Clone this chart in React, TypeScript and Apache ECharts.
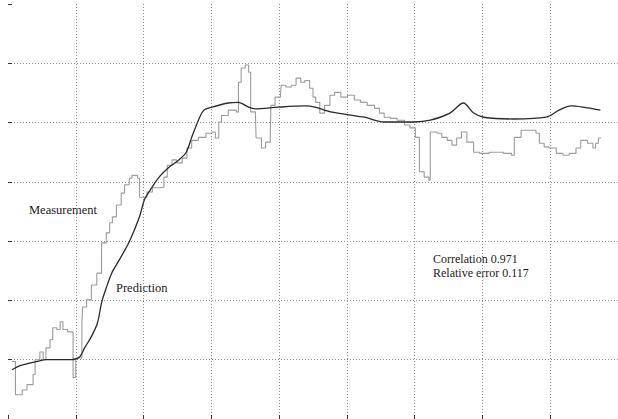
import React, { useEffect, useRef } from "react";
import * as echarts from "echarts";

// Sample index (x) and level (y, in grid units)
const measurementT = [6, 11, 21, 28, 37, 40, 47, 52, 56, 62, 66, 72, 77, 81, 88, 96, 100, 109, 110, 116, 123, 131, 138, 145, 150, 154, 160, 167, 172, 179, 183, 191, 194, 201, 205, 213, 223, 230, 235, 242, 249, 257, 264, 271, 281, 292, 301, 306, 311, 315, 325, 337, 340, 344, 350, 355, 358, 365, 366, 374, 380, 387, 388, 394, 402, 403, 410, 418, 425, 432, 438, 445, 450, 454, 460, 467, 475, 482, 491, 501, 511, 520, 530, 541, 548, 555, 564, 574, 585, 593, 601, 607, 614, 621, 623, 633, 640, 648, 655, 662, 669, 677, 687, 696, 710, 731, 743, 747, 757, 769, 779, 784, 791, 798, 809, 819, 828, 838, 845, 855, 863, 867, 871, 875];
const measurementV = [0.97, 0.41, 0.49, 0.58, 0.75, 1.0, 1.13, 1.0, 1.2, 1.34, 1.54, 1.51, 1.64, 1.51, 1.47, 0.7, 1.03, 1.62, 1.89, 2.01, 2.26, 2.46, 2.97, 3.14, 3.31, 3.41, 3.61, 3.81, 3.95, 4.06, 4.11, 4.06, 3.74, 3.74, 3.83, 3.9, 3.91, 4.08, 4.28, 4.37, 4.32, 4.4, 4.57, 4.7, 4.75, 4.82, 4.84, 4.74, 5.01, 5.12, 5.21, 5.18, 5.68, 5.92, 5.97, 5.85, 5.18, 5.16, 4.74, 4.57, 4.67, 4.84, 5.29, 5.43, 5.46, 5.63, 5.6, 5.63, 5.75, 5.68, 5.71, 5.58, 5.43, 5.34, 5.16, 5.29, 5.46, 5.51, 5.43, 5.46, 5.38, 5.34, 5.29, 5.24, 5.16, 5.09, 5.07, 5.04, 4.96, 4.91, 4.75, 4.17, 4.08, 4.03, 4.84, 4.82, 4.75, 4.7, 4.62, 4.74, 4.84, 4.67, 4.5, 4.48, 4.5, 4.48, 4.45, 4.75, 4.87, 4.87, 4.82, 4.65, 4.59, 4.57, 4.48, 4.45, 4.48, 4.57, 4.7, 4.65, 4.57, 4.65, 4.74, 4.74];

const predictionT = [6, 18, 47, 55, 94, 106, 113, 123, 132, 138, 144, 153, 164, 179, 194, 201, 208, 223, 238, 252, 263, 271, 281, 289, 301, 325, 340, 355, 365, 399, 438, 453, 476, 526, 555, 599, 623, 652, 672, 687, 702, 746, 794, 813, 831, 848, 874];
const predictionV = [0.83, 0.9, 0.98, 1.0, 1.0, 1.05, 1.2, 1.39, 1.62, 1.96, 2.18, 2.46, 2.68, 2.99, 3.41, 3.69, 3.83, 4.08, 4.25, 4.37, 4.5, 4.75, 5.04, 5.21, 5.26, 5.33, 5.34, 5.26, 5.23, 5.26, 5.28, 5.26, 5.18, 5.09, 5.01, 5.01, 5.04, 5.16, 5.33, 5.16, 5.09, 5.06, 5.09, 5.21, 5.28, 5.26, 5.21];

const seriesNames = ["Measurement", "Prediction"];
const statLines = ["Correlation 0.971", "Relative error 0.117"];

const FONT = "'Liberation Serif', 'Times New Roman', serif";

export default function App() {
  const ref = useRef<HTMLDivElement>(null);
  useEffect(() => {
    if (!ref.current) return;
    const chart = echarts.init(ref.current, undefined, { renderer: "svg" });
    const grid = "#8c8c8c";
    const tickCol = "#333";
    const splitLine = {
      show: true,
      showMinLine: false,
      showMaxLine: false,
      lineStyle: { color: grid, width: 1, type: [1, 2] as any },
    };
    const xCommon = {
      type: "value" as const,
      min: 0,
      max: 900,
      interval: 100,
      axisLine: { show: false },
      axisLabel: { show: false },
      axisTick: { show: true, inside: true, length: 4, lineStyle: { color: tickCol } },
    };
    chart.setOption({
      animation: false,
      backgroundColor: "#fff",
      grid: { left: 8, right: -5, top: 4, bottom: 0, containLabel: false },
      xAxis: [
        { ...xCommon, position: "top", splitLine },
        { ...xCommon, position: "bottom", splitLine: { show: false } },
      ],
      yAxis: {
        type: "value",
        min: 0,
        max: 7,
        interval: 1,
        axisLine: { show: false },
        axisLabel: { show: false },
        axisTick: { show: true, inside: true, length: 4, lineStyle: { color: tickCol } },
        splitLine,
      },
      series: [
        {
          name: seriesNames[0],
          type: "line",
          step: "end",
          showSymbol: false,
          xAxisIndex: 0,
          data: measurementT.map((t, i) => [t, measurementV[i]]),
          lineStyle: { color: "#9c9c9c", width: 1.1 },
          z: 2,
        },
        {
          name: seriesNames[1],
          type: "line",
          smooth: 0.3,
          showSymbol: false,
          xAxisIndex: 0,
          data: predictionT.map((t, i) => [t, predictionV[i]]),
          lineStyle: { color: "#2a2a2a", width: 1.3 },
          z: 3,
        },
      ],
      graphic: [
        {
          type: "text",
          left: 29,
          top: 203,
          style: { text: seriesNames[0], font: `12.5px ${FONT}`, fill: "#1a1a1a" },
        },
        {
          type: "text",
          left: 116,
          top: 281,
          style: { text: seriesNames[1], font: `12.5px ${FONT}`, fill: "#1a1a1a" },
        },
        {
          type: "text",
          left: 433,
          top: 253,
          style: { text: statLines[0], font: `12px ${FONT}`, fill: "#1a1a1a" },
        },
        {
          type: "text",
          left: 433,
          top: 267,
          style: { text: statLines[1], font: `12px ${FONT}`, fill: "#1a1a1a" },
        },
      ],
    });
    return () => chart.dispose();
  }, []);
  return (
    <div
      ref={ref}
      style={{ position: "fixed", left: 0, top: 0, width: 618, height: 419, background: "#fff" }}
    />
  );
}
